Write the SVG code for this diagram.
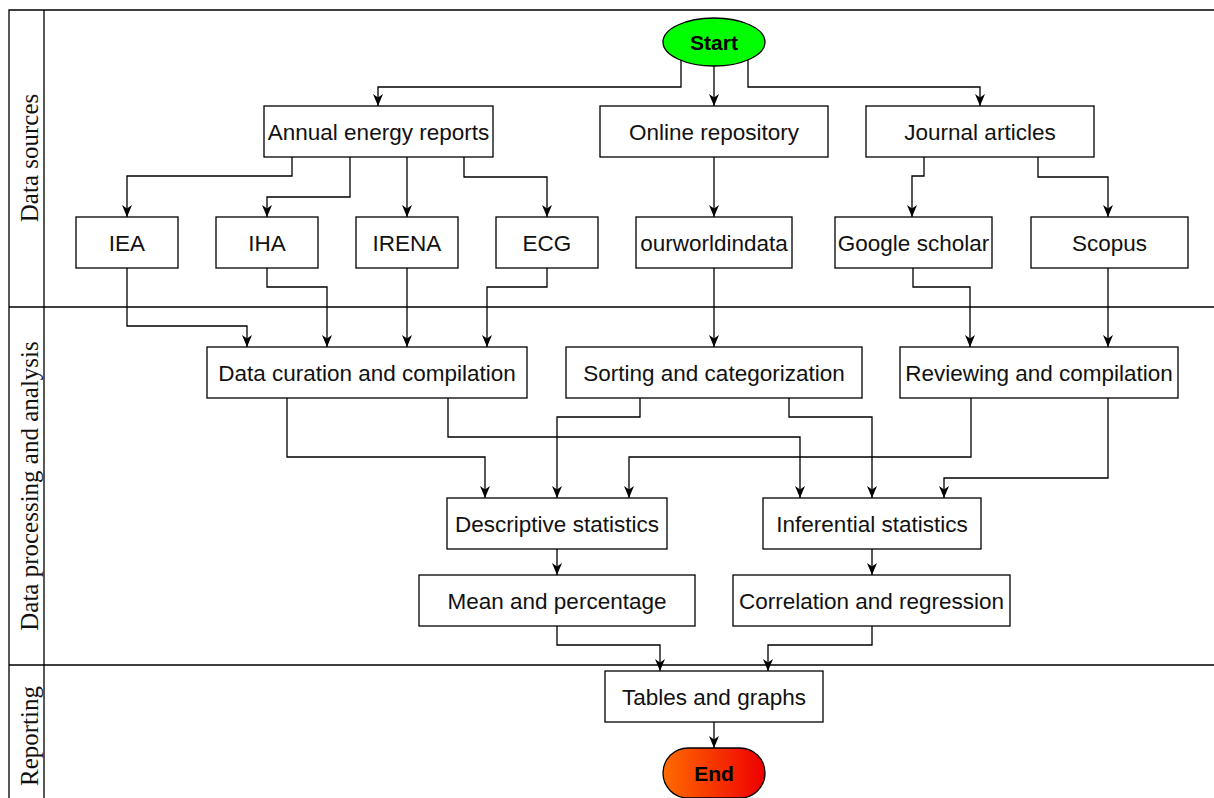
<svg xmlns="http://www.w3.org/2000/svg" width="1214" height="798" viewBox="0 0 1214 798">
<style>
.box{fill:#fff;stroke:#000;stroke-width:1.3}
.t{font-family:"Liberation Sans",Arial,sans-serif;font-size:22.5px;fill:#111;text-anchor:middle}
.tb{font-family:"Liberation Sans",Arial,sans-serif;font-size:21px;font-weight:bold;fill:#000;text-anchor:middle}
.lane{font-family:"Liberation Serif","Times New Roman",serif;font-size:25px;fill:#111;text-anchor:middle}
.frame{stroke:#000;stroke-width:1.3;fill:none}
.c path{fill:none;stroke:#000;stroke-width:1.3;marker-end:url(#arr)}
</style>
<defs>
<marker id="arr" markerUnits="userSpaceOnUse" markerWidth="14" markerHeight="14" refX="12" refY="7" orient="auto">
<path d="M0,2 L12,7 L0,12 L3.5,7 z" fill="#000"/>
</marker>
<linearGradient id="endg" x1="0" y1="0" x2="1" y2="0">
<stop offset="0" stop-color="#ff6a00"/>
<stop offset="1" stop-color="#ee0000"/>
</linearGradient>
</defs>
<rect width="1214" height="798" fill="#fff"/>
<g id="lanes">
<path class="frame" d="M9,798 V10 H1214 M44,10 V798 M9,307 H1214 M9,665 H1214"/>
<text class="lane" transform="translate(38,158) rotate(-90)">Data sources</text>
<text class="lane" transform="translate(38,486) rotate(-90)">Data processing and analysis</text>
<text class="lane" font-size="26" transform="translate(38,736) rotate(-90)">Reporting</text>
</g>
<g class="c" id="connectors">
<path d="M681,60 V87 H378 V106"/>
<path d="M714,66 V106"/>
<path d="M748,60 V87 H980 V106"/>
<path d="M292,157 V176 H127 V217"/>
<path d="M350,157 V197 H267 V217"/>
<path d="M407,157 V217"/>
<path d="M464,157 V177 H547 V217"/>
<path d="M714,157 V217"/>
<path d="M924,157 V176 H912 V217"/>
<path d="M1038,157 V177 H1108 V217"/>
<path d="M127,268 V326 H247 V347"/>
<path d="M267,268 V287 H327 V347"/>
<path d="M407,268 V347"/>
<path d="M547,268 V287 H487 V347"/>
<path d="M714,268 V347"/>
<path d="M913,268 V287 H970 V347"/>
<path d="M1108,268 V347"/>
<path d="M287,398 V457 H485 V498"/>
<path d="M448,398 V437 H800 V498"/>
<path d="M640,398 V417 H557 V498"/>
<path d="M789,398 V417 H872 V498"/>
<path d="M971,398 V457 H629 V498"/>
<path d="M1108,398 V478 H944 V498"/>
<path d="M557,549 V575"/>
<path d="M872,549 V575"/>
<path d="M557,626 V645 H660 V671"/>
<path d="M872,626 V645 H768 V671"/>
<path d="M714,722 V748"/>
</g>
<g id="start"><ellipse cx="714" cy="42" rx="51" ry="24" fill="#00ff00" stroke="#000" stroke-width="1.3"/><text class="tb" x="714" y="49.5">Start</text></g>
<g id="annual"><rect class="box" x="264" y="106" width="229" height="51"/><text class="t" x="378.5" y="139.5">Annual energy reports</text></g>
<g id="online"><rect class="box" x="600" y="106" width="228" height="51"/><text class="t" x="714" y="139.5">Online repository</text></g>
<g id="journal"><rect class="box" x="866" y="106" width="228" height="51"/><text class="t" x="980" y="139.5">Journal articles</text></g>
<g id="iea"><rect class="box" x="76" y="217" width="102" height="51"/><text class="t" x="127" y="250.5">IEA</text></g>
<g id="iha"><rect class="box" x="216" y="217" width="102" height="51"/><text class="t" x="267" y="250.5">IHA</text></g>
<g id="irena"><rect class="box" x="356" y="217" width="102" height="51"/><text class="t" x="407" y="250.5">IRENA</text></g>
<g id="ecg"><rect class="box" x="496" y="217" width="102" height="51"/><text class="t" x="547" y="250.5">ECG</text></g>
<g id="owid"><rect class="box" x="636" y="217" width="156" height="51"/><text class="t" x="714" y="250.5">ourworldindata</text></g>
<g id="google"><rect class="box" x="835" y="217" width="157" height="51"/><text class="t" x="913.5" y="250.5">Google scholar</text></g>
<g id="scopus"><rect class="box" x="1031" y="217" width="157" height="51"/><text class="t" x="1109.5" y="250.5">Scopus</text></g>
<g id="curation"><rect class="box" x="207" y="347" width="320" height="51"/><text class="t" x="367" y="380.5">Data curation and compilation</text></g>
<g id="sorting"><rect class="box" x="566" y="347" width="296" height="51"/><text class="t" x="714" y="380.5">Sorting and categorization</text></g>
<g id="reviewing"><rect class="box" x="900" y="347" width="278" height="51"/><text class="t" x="1039" y="380.5">Reviewing and compilation</text></g>
<g id="descriptive"><rect class="box" x="447" y="498" width="220" height="51"/><text class="t" x="557" y="531.5">Descriptive statistics</text></g>
<g id="inferential"><rect class="box" x="763" y="498" width="218" height="51"/><text class="t" x="872" y="531.5">Inferential statistics</text></g>
<g id="mean"><rect class="box" x="419" y="575" width="276" height="51"/><text class="t" x="557" y="608.5">Mean and percentage</text></g>
<g id="correlation"><rect class="box" x="733" y="575" width="277" height="51"/><text class="t" x="871.5" y="608.5">Correlation and regression</text></g>
<g id="tables"><rect class="box" x="605" y="671" width="218" height="51"/><text class="t" x="714" y="704.5">Tables and graphs</text></g>
<g id="end"><rect x="663" y="748" width="102" height="50" rx="25" fill="url(#endg)" stroke="#000" stroke-width="1.3"/><text class="tb" x="714" y="781">End</text></g>
</svg>
